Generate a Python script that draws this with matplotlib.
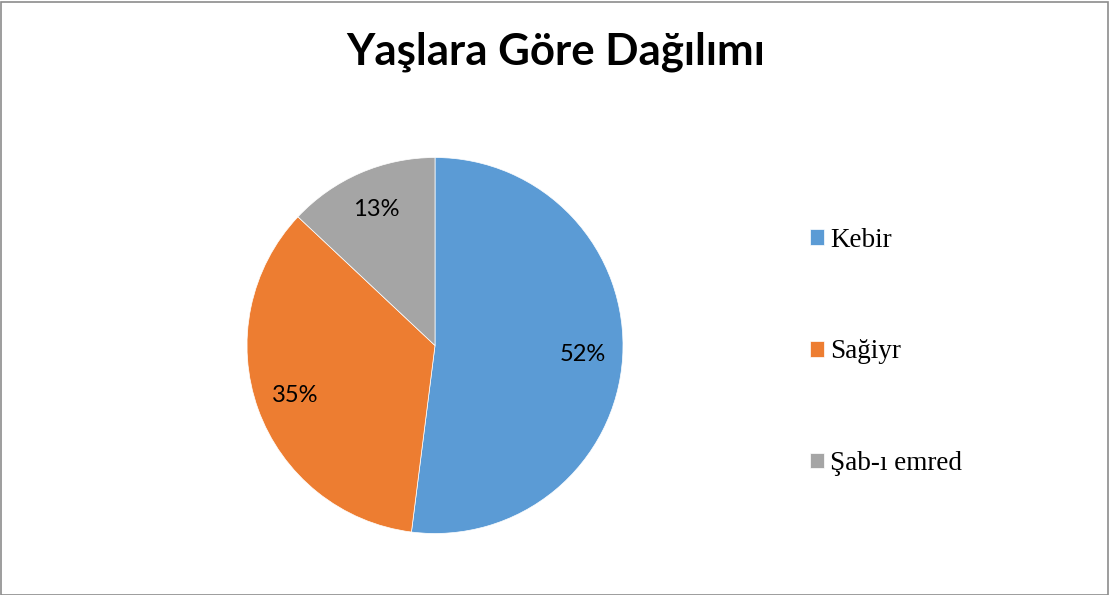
import matplotlib.pyplot as plt
from matplotlib.patches import Rectangle

# data
labels = ['Kebir', 'Sağiyr', 'Şab-ı emred']
values = [52, 35, 13]
colors = ['#5B9BD5', '#ED7D31', '#A5A5A5']
title = 'Yaşlara Göre Dağılımı'

W, H = 1109, 595
fig = plt.figure(figsize=(W / 100, H / 100), dpi=100)

# pie area: centre (435, 345) px, radius 188 px
cx, cy, r = 435, 345.5, 188
ax = fig.add_axes([(cx - r) / W, (H - cy - r) / H, 2 * r / W, 2 * r / H])
wedges, texts, autotexts = ax.pie(
    values, colors=colors, startangle=90, counterclock=False,
    autopct='%1.0f%%', pctdistance=0.79,
    wedgeprops=dict(edgecolor='white', linewidth=0.5),
    textprops=dict(family='Lato', fontsize=17, color='black'))
ax.set_xlim(-1, 1)
ax.set_ylim(-1, 1)
ax.axis('off')

fig.text(556 / W, 1 - 52 / H, title, ha='center', va='center',
         family='Lato', fontweight='bold', fontsize=31.5)

leg = fig.legend(wedges, labels, loc='center left',
                 bbox_to_anchor=(796 / W, 1 - 352 / H),
                 frameon=False, prop=dict(family='Liberation Serif', size=19.5),
                 handlelength=0.52, handleheight=0.52, handletextpad=0.25,
                 labelspacing=3.2, borderpad=0)

# outer border
fig.patches.append(Rectangle((0.5 / W, 0.5 / H), (W - 2) / W, (H - 2) / H,
                             transform=fig.transFigure, fill=False,
                             edgecolor='#8c8c8c', linewidth=1.2))

fig.savefig('out.png', dpi=100)
